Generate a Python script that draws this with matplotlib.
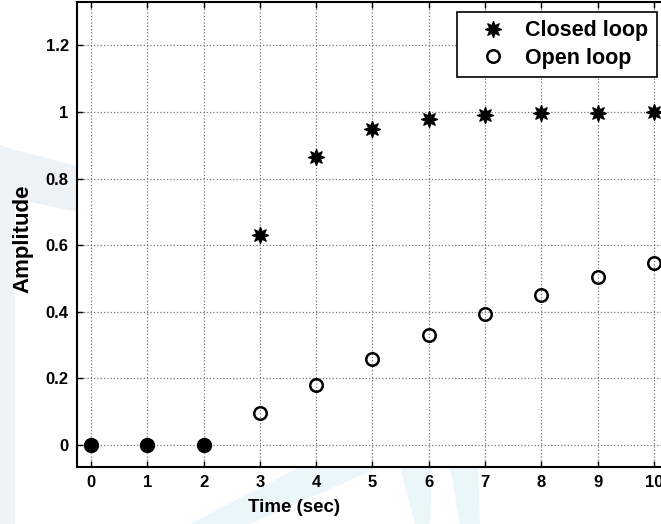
import numpy as np
import matplotlib.pyplot as plt
from matplotlib.patches import Polygon

# step response samples
t_delay = [0, 1, 2]
y_delay = [0, 0, 0]
t_resp = [3, 4, 5, 6, 7, 8, 9, 10]
closed_loop = [0.632, 0.865, 0.950, 0.980, 0.992, 0.996, 0.998, 0.999]
open_loop = [0.095, 0.181, 0.259, 0.330, 0.393, 0.451, 0.503, 0.547]
xticks = list(range(0, 11))
yticks = [0, 0.2, 0.4, 0.6, 0.8, 1, 1.2]
ytick_labels = ['0', '0.2', '0.4', '0.6', '0.8', '1', '1.2']

plt.rcParams['font.family'] = ['Liberation Sans', 'DejaVu Sans']

W, H = 661, 524
fig = plt.figure(figsize=(W / 100, H / 100), dpi=100)

# faint watermark shapes behind the axes (pixel coords -> figure coords)
def px_poly(pts, color):
    pts = [(x / W, 1 - y / H) for x, y in pts]
    fig.patches.append(Polygon(pts, closed=True, transform=fig.transFigure,
                               facecolor=color, edgecolor='none', zorder=0))

px_poly([(0, 145), (15, 150), (15, 524), (0, 524)], '#eef3f7')
px_poly([(15, 150), (77, 166), (77, 212), (40, 204), (15, 198)], '#edf2f6')
px_poly([(190, 524), (250, 524), (380, 467), (300, 467)], '#ebf6fb')
px_poly([(400, 467), (432, 467), (430, 524), (415, 524)], '#ebf6fb')
px_poly([(450, 467), (478, 467), (480, 524), (460, 524)], '#ebf6fb')

ax = fig.add_axes([77 / W, 57 / H, 591 / W, 465 / H])
ax.set_zorder(2)

ax.plot(t_delay, y_delay, linestyle='none', marker='o', markersize=10,
        color='black', markerfacecolor='black')
ax.plot(t_resp, closed_loop, linestyle='none', marker=(8, 1, 0), markersize=12,
        markeredgewidth=0.8, color='black', label='Closed loop')
ax.plot(t_resp, open_loop, linestyle='none', marker='o', markersize=9,
        markeredgewidth=1.8, color='black', markerfacecolor='none', label='Open loop')

ax.set_xlim(-0.25, 10.25)
ax.set_ylim(-0.066, 1.33)
ax.set_xticks(xticks)
ax.set_yticks(yticks)
ax.set_yticklabels(ytick_labels)
ax.tick_params(direction='in', top=True, right=True, length=4, width=1,
               labelsize=12, pad=6)
for lab in ax.get_xticklabels() + ax.get_yticklabels():
    lab.set_fontweight('bold')

ax.grid(True, linestyle=':', color='#777777', linewidth=0.9)
for s in ax.spines.values():
    s.set_linewidth(1.5)

ax.set_xlabel('Time (sec)', fontsize=13.5, fontweight='bold')
ax.xaxis.set_label_coords((294 - 77) / 591, -0.068)
ax.set_ylabel('Amplitude', fontsize=16, fontweight='bold')
ax.yaxis.set_label_coords(-0.074, 0.49)

leg = ax.legend(loc='upper right', bbox_to_anchor=(0.981, 0.978),
                prop={'weight': 'bold', 'size': 15.5}, fancybox=False,
                edgecolor='black', framealpha=1, handlelength=2.6,
                handletextpad=0.2, borderpad=0.38, labelspacing=0.3,
                borderaxespad=0)
leg.get_frame().set_linewidth(1.2)

fig.savefig('out.png', dpi=100)
